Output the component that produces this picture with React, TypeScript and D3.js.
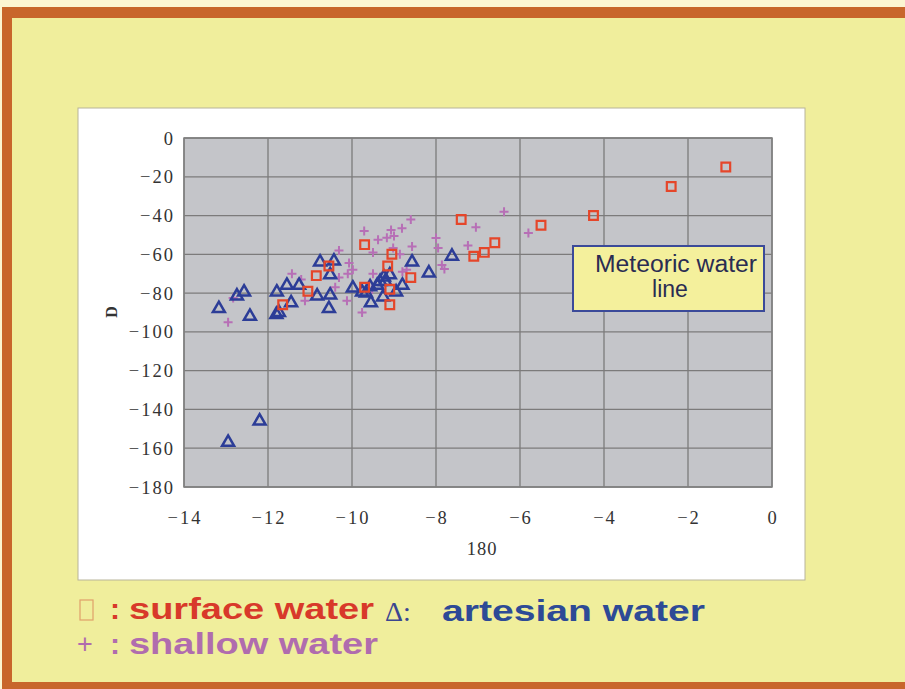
import React from 'react';
import * as d3 from 'd3';

// tick values
const xTicks = [-14, -12, -10, -8, -6, -4, -2, 0];
const yTicks = [0, -20, -40, -60, -80, -100, -120, -140, -160, -180];

// surface water (x = δ18O, y = δD)
const surface = [
  [-1.1, -15], [-2.4, -25], [-4.25, -40], [-5.5, -45], [-7.4, -42], [-6.6, -54],
  [-6.85, -59], [-7.1, -61], [-9.7, -55], [-9.05, -60], [-9.15, -66], [-8.6, -72],
  [-10.55, -66], [-10.85, -71], [-11.05, -79], [-11.65, -86], [-9.1, -86],
  [-9.7, -77], [-9.1, -78],
];

// artesian water
const artesian = [
  [-12.95, -157], [-12.2, -146], [-13.17, -88], [-12.74, -81.5], [-12.57, -79.5],
  [-12.43, -92], [-11.79, -79.5], [-11.8, -91], [-11.74, -90], [-11.55, -76],
  [-11.45, -85], [-11.26, -76], [-10.83, -81.5], [-10.76, -64], [-10.43, -63.5],
  [-10.52, -70.6], [-10.52, -81], [-10.55, -88], [-9.98, -77.4], [-9.76, -79.4],
  [-9.67, -80], [-9.57, -76.8], [-9.55, -85], [-9.4, -76], [-9.33, -74],
  [-9.24, -71.7], [-9.1, -70.6], [-9.21, -74], [-9.26, -82], [-8.95, -79.4],
  [-8.8, -76], [-8.57, -64], [-8.17, -69.6], [-7.62, -61],
];

// shallow water
const shallow = [
  [-12.95, -95], [-12.83, -82.5], [-11.43, -70], [-11.21, -73], [-11.12, -84],
  [-10.31, -58], [-10.4, -77], [-10.12, -84], [-10.07, -64.5], [-9.98, -68],
  [-10.1, -70], [-10.31, -72], [-9.76, -90], [-9.71, -48], [-9.5, -59], [-9.5, -70],
  [-9.38, -52.5], [-9.17, -51.5], [-9.07, -47.5], [-9.0, -50.5], [-8.81, -46.5],
  [-8.6, -42], [-8.57, -56], [-8.86, -60], [-8.8, -69], [-9.02, -56.7], [-8.0, -51.6],
  [-7.95, -56.7], [-7.86, -65.5], [-7.8, -67.5], [-7.24, -55.5], [-7.05, -46],
  [-6.38, -38], [-5.8, -49], [-9.52, -78], [-8.7, -68],
];

const plot = { left: 184, right: 772, top: 138, bottom: 487 };

export default function App() {
  const x = d3.scaleLinear().domain([-14, 0]).range([plot.left, plot.right]);
  const y = d3.scaleLinear().domain([-180, 0]).range([plot.bottom, plot.top]);
  const fmt = d3.format('d');

  const tri = d3.symbol().type(d3.symbolTriangle).size(62)() as string;
  const sq = d3.symbol().type(d3.symbolSquare).size(76)() as string;
  const plus = 'M-4.5,0H4.5M0,-4.5V4.5';

  const serif = '"Liberation Serif", "DejaVu Serif", serif';
  const sans = '"Liberation Sans", Arial, sans-serif';

  return (
    <svg width={905} height={689} style={{ position: 'absolute', left: 0, top: 0 }}>
      {/* page frame */}
      <rect x={0} y={0} width={905} height={689} fill="#fcf5d2" />
      <rect x={2} y={7} width={903} height={682} fill="#c8662b" />
      <rect x={12} y={18} width={893} height={664} fill="#f0ee9c" />

      {/* chart area */}
      <rect x={78} y={108} width={727} height={472} fill="#ffffff" stroke="#b8b49a" strokeWidth={1} />
      <rect x={plot.left} y={plot.top} width={plot.right - plot.left} height={plot.bottom - plot.top} fill="#c4c5c9" />

      {/* grid */}
      {yTicks.map(t => (
        <line key={'gy' + t} x1={plot.left} x2={plot.right} y1={y(t)} y2={y(t)} stroke="#7c7b7b" strokeWidth={1.3} />
      ))}
      {xTicks.map(t => (
        <line key={'gx' + t} x1={x(t)} x2={x(t)} y1={plot.top} y2={plot.bottom} stroke="#7c7b7b" strokeWidth={1.3} />
      ))}
      <rect x={plot.left} y={plot.top} width={plot.right - plot.left} height={plot.bottom - plot.top} fill="none" stroke="#808080" strokeWidth={1.5} />

      {/* tick labels */}
      {yTicks.map(t => (
        <text key={'ly' + t} x={175} y={y(t) + 6.5} textAnchor="end" fontFamily={serif} fontSize={18.5} letterSpacing={2} fill="#333">
          {fmt(t)}
        </text>
      ))}
      {xTicks.map(t => (
        <text key={'lx' + t} x={x(t) + 1} y={524} textAnchor="middle" fontFamily={serif} fontSize={18.5} letterSpacing={2} fill="#333">
          {fmt(t)}
        </text>
      ))}
      <text x={482} y={555} textAnchor="middle" fontFamily={serif} fontSize={18.5} letterSpacing={1} fill="#333">180</text>
      <text transform="translate(117,312) rotate(-90)" textAnchor="middle" fontFamily={serif} fontWeight="bold" fontSize={16} fill="#333">D</text>

      {/* series */}
      {shallow.map((d, i) => (
        <path key={'p' + i} d={plus} transform={`translate(${x(d[0])},${y(d[1])})`} stroke="#b76fb6" strokeWidth={2} fill="none" />
      ))}
      {artesian.map((d, i) => (
        <path key={'a' + i} d={tri} transform={`translate(${x(d[0])},${y(d[1])})`} stroke="#2c3d97" strokeWidth={2.5} fill="none" />
      ))}
      {surface.map((d, i) => (
        <path key={'s' + i} d={sq} transform={`translate(${x(d[0])},${y(d[1])})`} stroke="#e5462a" strokeWidth={2.2} fill="none" />
      ))}

      {/* annotation box */}
      <rect x={573} y={246} width={191} height={65} fill="#f4f09c" stroke="#3b4a99" strokeWidth={2} />
      <text x={595} y={272} fontFamily={sans} fontSize={23} textLength={162} lengthAdjust="spacingAndGlyphs" fill="#2a2c52">Meteoric water</text>
      <text x={670} y={297} textAnchor="middle" fontFamily={sans} fontSize={23} fill="#2a2c52">line</text>

      {/* legend */}
      <rect x={80} y={600} width={13} height={20} fill="none" stroke="#e0a06a" strokeWidth={1.2} />
      <text x={110} y={619} fontFamily={sans} fontWeight="bold" fontSize={30} fill="#d8392a">:</text>
      <text x={129} y={619} fontFamily={sans} fontWeight="bold" fontSize={30} textLength={245} lengthAdjust="spacingAndGlyphs" fill="#d8392a">surface water</text>
      <text x={385} y={621} fontFamily={serif} fontSize={28} fill="#3b4690">Δ:</text>
      <text x={442} y={621} fontFamily={sans} fontWeight="bold" fontSize={30} textLength={263} lengthAdjust="spacingAndGlyphs" fill="#2d4a96">artesian water</text>
      <text x={77} y={653} fontFamily={sans} fontSize={27} fill="#b06cae">+</text>
      <text x={110} y={654} fontFamily={sans} fontWeight="bold" fontSize={30} fill="#b06cae">:</text>
      <text x={129} y={654} fontFamily={sans} fontWeight="bold" fontSize={30} textLength={249} lengthAdjust="spacingAndGlyphs" fill="#b06cae">shallow water</text>
    </svg>
  );
}
